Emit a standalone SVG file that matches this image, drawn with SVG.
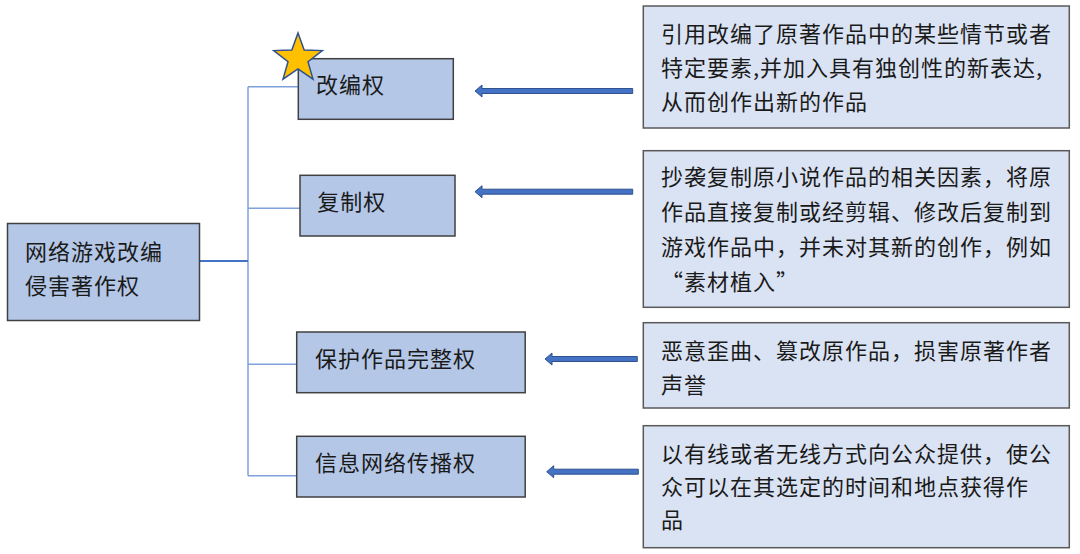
<svg xmlns="http://www.w3.org/2000/svg" width="1080" height="554" viewBox="0 0 1080 554">
<style>
.lbox{fill:#B4C7E7;stroke:#404040;stroke-width:1.5}
.rbox{fill:#DAE3F3;stroke:#595959;stroke-width:1.5}
.t{font-family:"Noto Sans CJK SC","Noto Sans",sans-serif;font-size:22px;letter-spacing:1px;fill:#1a1a1a}
.ln{stroke:#7EA1DB;stroke-width:1.5;fill:none}
.ln2{stroke:#4472C4;stroke-width:2;fill:none}
.arr{fill:#4472C4;stroke:#2F528F;stroke-width:1}
.star{fill:#FFC000;stroke:#2F528F;stroke-width:1.5;stroke-linejoin:miter}
</style>
<rect width="1080" height="554" fill="#ffffff"/>
<g id="connectors">
<path class="ln" d="M248 86.7V475.7M248 86.7H298M248 208.3H300M248 364.3H296.7M248 475.7H296.7"/>
<path class="ln2" d="M199.3 261H248"/>
<path class="arr" d="M475 91L482 85V88.5H632.7V93.5H482V97Z"/>
<path class="arr" d="M475 191.7L482 185.7V189.2H632.7V194.2H482V197.7Z"/>
<path class="arr" d="M545 359L552 353V356.5H637.3V361.5H552V365Z"/>
<path class="arr" d="M546.7 471.7L553.7 465.7V469.2H638.3V474.2H553.7V477.7Z"/>
</g>
<g id="main">
<rect class="lbox" x="7.5" y="223.5" width="192" height="97"/>
<text class="t" x="25" y="260">网络游戏改编</text>
<text class="t" x="25" y="294">侵害著作权</text>
</g>
<g id="adapt">
<rect class="lbox" x="298.3" y="58.7" width="155" height="60.6"/>
<text class="t" x="316" y="93">改编权</text>
</g>
<g id="star">
<polygon class="star" points="298,33 304.17,50 322.25,50.62 307.99,61.74 312.99,79.13 298,69 283.01,79.13 288.01,61.74 273.75,50.62 291.83,50"/>
</g>
<g id="copy">
<rect class="lbox" x="300" y="175.3" width="155" height="60.7"/>
<text class="t" x="317.3" y="210">复制权</text>
</g>
<g id="integrity">
<rect class="lbox" x="296.7" y="332" width="228.5" height="60.7"/>
<text class="t" x="315" y="366.7">保护作品完整权</text>
</g>
<g id="network">
<rect class="lbox" x="296.7" y="436.3" width="228.5" height="60.7"/>
<text class="t" x="315" y="471">信息网络传播权</text>
</g>
<g id="desc1">
<rect class="rbox" x="643.3" y="6" width="426" height="122"/>
<text class="t" x="661" y="42">引用改编了原著作品中的某些情节或者</text>
<text class="t" x="661" y="76">特定要素,并加入具有独创性的新表达,</text>
<text class="t" x="661" y="110">从而创作出新的作品</text>
</g>
<g id="desc2">
<rect class="rbox" x="643.3" y="150.7" width="426" height="156.6"/>
<text class="t" x="661" y="185">抄袭复制原小说作品的相关因素，将原</text>
<text class="t" x="661" y="220">作品直接复制或经剪辑、修改后复制到</text>
<text class="t" x="661" y="255">游戏作品中，并未对其新的创作，例如</text>
<text class="t" x="661" y="290">“素材植入”</text>
</g>
<g id="desc3">
<rect class="rbox" x="643.3" y="322.7" width="426" height="85.3"/>
<text class="t" x="661" y="358.5">恶意歪曲、篡改原作品，损害原著作者</text>
<text class="t" x="661" y="392.5">声誉</text>
</g>
<g id="desc4">
<rect class="rbox" x="643.3" y="425.7" width="426" height="122"/>
<text class="t" x="661" y="462">以有线或者无线方式向公众提供，使公</text>
<text class="t" x="661" y="495">众可以在其选定的时间和地点获得作</text>
<text class="t" x="661" y="528">品</text>
</g>
</svg>
